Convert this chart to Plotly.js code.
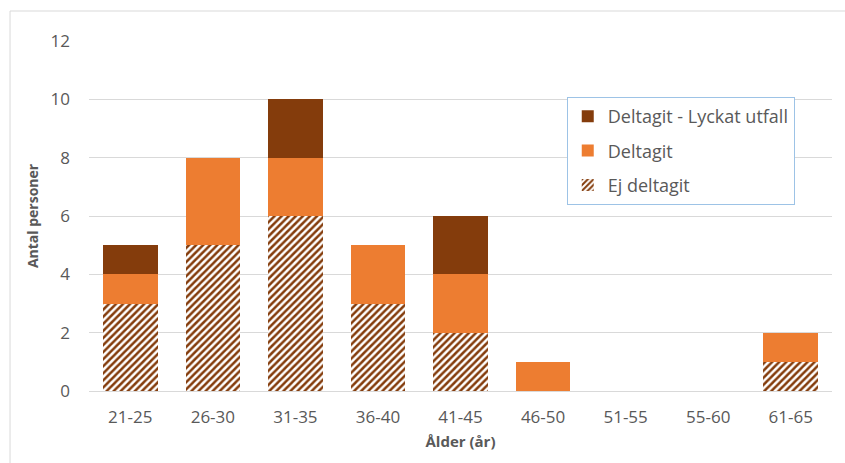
<!DOCTYPE html>
<html>
<head>
<meta charset="utf-8">
<script src="https://cdn.plot.ly/plotly-3.0.1.min.js"></script>
<style>html,body{margin:0;padding:0;background:#fff;}#chart{width:845px;height:463px;}</style>
</head>
<body>
<div id="chart"></div>
<script>
const categories = ["21-25","26-30","31-35","36-40","41-45","46-50","51-55","55-60","61-65"];
const ejDeltagit = [3,5,6,3,2,0,0,0,1];
const deltagit = [1,3,2,2,2,1,0,0,1];
const lyckatUtfall = [1,0,2,0,2,0,0,0,0];
const yTicks = [0,2,4,6,8,10,12];

const FONT = "Liberation Sans Narrow, Open Sans, sans-serif";
const GREY = "#595959";

const traces = [
  {
    type: "bar", name: "Ej deltagit", x: categories, y: ejDeltagit, legendgroup: "a", legendrank: 3,
    marker: {color: "#ffffff", line: {width: 0},
      pattern: {shape: "/", fgcolor: "#843C0C", bgcolor: "#ffffff", size: 5, solidity: 0.5}}
  },
  {
    type: "bar", name: "Deltagit", x: categories, y: deltagit, legendgroup: "b", legendrank: 2,
    marker: {color: "#ED7D31", line: {width: 0}}
  },
  {
    type: "bar", name: "Deltagit - Lyckat utfall", x: categories, y: lyckatUtfall, legendgroup: "c", legendrank: 1,
    marker: {color: "#843C0C", line: {width: 0}}
  }
];

const layout = {
  width: 845, height: 463,
  margin: {l: 89, r: 13, t: 41, b: 72, pad: 0},
  barmode: "stack",
  bargap: 0.34,
  paper_bgcolor: "#ffffff", plot_bgcolor: "#ffffff",
  font: {family: FONT, color: GREY, size: 16},
  hovermode: false,
  showlegend: true,
  legend: {
    x: 0.643, y: 0.84, xanchor: "left", yanchor: "top",
    traceorder: "grouped", tracegroupgap: 8,
    bordercolor: "#9DC3E6", borderwidth: 1, bgcolor: "#ffffff",
    font: {family: FONT, color: GREY, size: 18}
  },
  xaxis: {
    type: "category", categoryorder: "array", categoryarray: categories,
    showgrid: false, zeroline: false, showline: false, ticks: "",
    ticklabelstandoff: 14,
    tickfont: {family: FONT, color: GREY, size: 17},
    title: {text: "<b>Ålder (år)</b>", font: {family: FONT, color: GREY, size: 15}, standoff: 9}
  },
  yaxis: {
    range: [0, 12], tickvals: yTicks, ticktext: yTicks.map(String),
    showgrid: true, gridcolor: "#d9d9d9", gridwidth: 1,
    zeroline: true, zerolinecolor: "#d9d9d9", zerolinewidth: 1,
    showline: false, ticks: "", ticklabelstandoff: 18,
    tickfont: {family: FONT, color: GREY, size: 17},
    title: {text: "<b>Antal personer</b>", font: {family: FONT, color: GREY, size: 14}, standoff: 8}
  },
  shapes: [
    {type: "rect", xref: "paper", yref: "paper", x0: -0.1063, x1: 1.2, y0: -0.4, y1: 1.0857,
     line: {color: "#d9d9d9", width: 1}, fillcolor: "rgba(0,0,0,0)", layer: "below"}
  ]
};

Plotly.newPlot("chart", traces, layout, {displayModeBar: false, staticPlot: true});
</script>
</body>
</html>
